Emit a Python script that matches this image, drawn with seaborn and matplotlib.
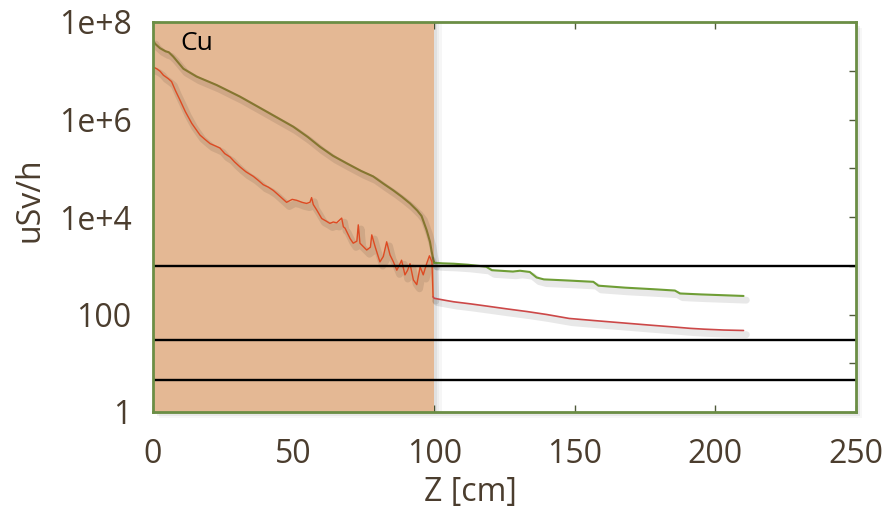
import matplotlib
matplotlib.use("Agg")
import matplotlib.pyplot as plt
import seaborn as sns
import pandas as pd
from matplotlib import patheffects as pe
from matplotlib.patches import Rectangle
from matplotlib.ticker import LogLocator, NullFormatter

# ---------------- data ----------------
green_in_z = [0, 0.7, 2.5, 4.5, 5.6, 7.2, 10.8, 15.5, 22.6, 30.9, 40.4, 49.9, 55, 59.4,
              64, 68.9, 74, 78.3, 82, 85.5, 88.5, 91.4, 94, 95.5, 97.3, 98.5, 99.1, 99.7, 100]
green_in_v = [4.3e7, 3.6e7, 2.9e7, 2.5e7, 2.4e7, 1.95e7, 1.1e7, 7.6e6, 5.1e6, 2.95e6, 1.45e6,
              7.1e5, 4.4e5, 2.75e5, 1.8e5, 1.26e5, 8.8e4, 6.8e4, 4.8e4, 3.5e4, 2.6e4, 1.9e4,
              1.35e4, 1.05e4, 5.4e3, 3.1e3, 1.95e3, 1.32e3, 1.15e3]

green_out_z = [100, 103, 107, 112, 118.5, 120.5, 128, 130.5, 134, 136.4, 139, 147, 156.6,
               158.4, 168, 178, 185.6, 187.4, 195, 201.6, 210]
green_out_v = [1150, 1120, 1100, 1050, 955, 810, 760, 790, 745, 575, 525, 500, 468,
               390, 355, 330, 310, 270, 258, 250, 240]

red_in_z = [0, 1.3, 2.5, 3.7, 5.4, 6.6, 8, 9.6, 11.5, 13.8, 16.7, 18.5, 20.3, 22, 23.8, 25.5,
            27.4, 29, 30.9, 33, 35.7, 37.5, 39.2, 41, 42.8, 45, 47.5, 49.5, 51.1, 53, 54.6,
            55.8, 56.4, 57, 58.2, 60, 61.5, 62.9, 64.1, 65.3, 67.1, 67.7, 68.3, 70.1, 71.2,
            72.5, 73, 73.6, 76, 77.3, 77.8, 79, 80.7, 81.9, 83.1, 84.3, 85.5, 86.7, 87.5,
            88.4, 89.6, 90.5, 91.4, 92.6, 93.8, 95, 96.1, 97.3, 98.3, 99.2, 99.6]
red_in_v = [1.2e7, 1.1e7, 9.8e6, 8.1e6, 6.9e6, 6.0e6, 3.9e6, 2.5e6, 1.45e6, 8.3e5, 4.8e5,
            3.9e5, 3.2e5, 2.9e5, 2.6e5, 2.0e5, 1.7e5, 1.35e5, 1.07e5, 8.5e4, 6.8e4, 5.6e4,
            4.6e4, 4.1e4, 3.5e4, 2.7e4, 2.0e4, 2.3e4, 2.2e4, 2.0e4, 1.9e4, 2.0e4, 2.5e4,
            1.8e4, 1.4e4, 9.3e3, 8.3e3, 7.4e3, 7.9e3, 7.6e3, 9.5e3, 6.3e3, 5.9e3, 3.6e3,
            2.9e3, 3.2e3, 6.9e3, 2.9e3, 2.1e3, 2.4e3, 4.3e3, 2.45e3, 1.2e3, 1.55e3, 3.1e3,
            1.66e3, 1.2e3, 810, 1.0e3, 1.3e3, 650, 800, 1.1e3, 510, 410, 950, 650, 1.1e3,
            1.6e3, 1.2e3, 230]

red_out_z = [99.6, 100, 104, 107, 113, 119, 126, 133, 140, 148, 157, 166, 176, 186, 191,
             196, 203, 210]
red_out_v = [230, 215, 195, 182, 165, 148, 130, 115, 100, 83, 75, 68, 61, 55, 52, 50, 48, 47]

limit_levels = [1000, 30, 4.5]
ytick_vals = [1, 10, 100, 1e3, 1e4, 1e5, 1e6, 1e7, 1e8]
ytick_labels = ["1", "", "100", "", "1e+4", "", "1e+6", "", "1e+8"]
xtick_vals = [0, 50, 100, 150, 200, 250]
shield_range = (0, 100)
shield_label = "Cu"

# ---------------- styling ----------------
sns.set_style("white")
plt.rcParams["font.family"] = ["Open Sans", "DejaVu Sans"]

W, H = 884, 512
fig = plt.figure(figsize=(W / 100, H / 100), dpi=100)
L, R, T, B = 153, 856, 22, 412
ax = fig.add_axes([L / W, 1 - B / H, (R - L) / W, (B - T) / H])

# soft shadow behind the plot box
for i, a in enumerate([0.09, 0.06, 0.03]):
    off = 2 + 2 * i
    fig.patches.append(Rectangle(((L + off) / W, 1 - (B + off) / H), (R - L) / W, (B - T) / H,
                                 transform=fig.transFigure, facecolor="#000000", alpha=a,
                                 lw=0, zorder=-5))

ax.set_facecolor("white")
ax.axvspan(*shield_range, color="#e4b894", lw=0, zorder=1)
for i, a in enumerate([0.12, 0.07, 0.035]):
    ax.axvspan(shield_range[1] + i * 0.9, shield_range[1] + (i + 1) * 0.9, color="#000000",
               alpha=a, lw=0, zorder=1)

shadow = [pe.SimpleLineShadow(offset=(2, -3), shadow_color="k", alpha=0.09, linewidth=5),
          pe.Normal()]

segments = [
    (green_in_z, green_in_v, "#857630", 1.5),
    (green_out_z, green_out_v, "#6f9e36", 1.5),
    (red_in_z, red_in_v, "#de4a22", 1.0),
    (red_out_z, red_out_v, "#cc4848", 1.2),
]
for zs, vs, col, lw in segments:
    df = pd.DataFrame({"z": zs, "v": vs})
    sns.lineplot(data=df, x="z", y="v", ax=ax, color=col, lw=lw, estimator=None, sort=False,
                 path_effects=shadow, zorder=2)

for lv in limit_levels:
    ax.axhline(lv, color="black", lw=1.7, zorder=4)

ax.set_yscale("log")
ax.set_xlim(0, 250)
ax.set_ylim(1, 1e8)
ax.set_yticks(ytick_vals, labels=ytick_labels)
ax.yaxis.set_minor_locator(LogLocator(base=10, subs=(2, 5)))
ax.yaxis.set_minor_formatter(NullFormatter())
ax.set_xticks(xtick_vals, labels=[str(v) for v in xtick_vals])

label_col = "#4b3d2e"
ax.tick_params(which="both", direction="in", left=True, right=True, top=True, bottom=True,
               color="#4f5a3a", labelcolor=label_col, labelsize=23)
ax.tick_params(axis="x", which="both", pad=19)
ax.tick_params(axis="y", which="both", pad=15.5)
ax.tick_params(which="major", length=5, width=1)
ax.tick_params(which="minor", length=3, width=0.8)

for sp in ax.spines.values():
    sp.set_color("#6b8e45")
    sp.set_linewidth(2)
    sp.set_zorder(5)

ax.set_xlabel("Z [cm]", fontsize=23, color=label_col)
ax.set_ylabel("uSv/h", fontsize=23, color=label_col)
ax.xaxis.label.set_va("center")
ax.yaxis.label.set_va("center")
ax.xaxis.set_label_coords((470 - L) / (R - L), (B - 493) / (B - T))
ax.yaxis.set_label_coords((30 - L) / (R - L), (B - 200) / (B - T))

ax.text((180 - L) / (R - L), (B - 44) / (B - T), shield_label, transform=ax.transAxes,
        ha="left", va="center", fontsize=19, color="black", zorder=6)

fig.savefig("out.png", dpi=100)
